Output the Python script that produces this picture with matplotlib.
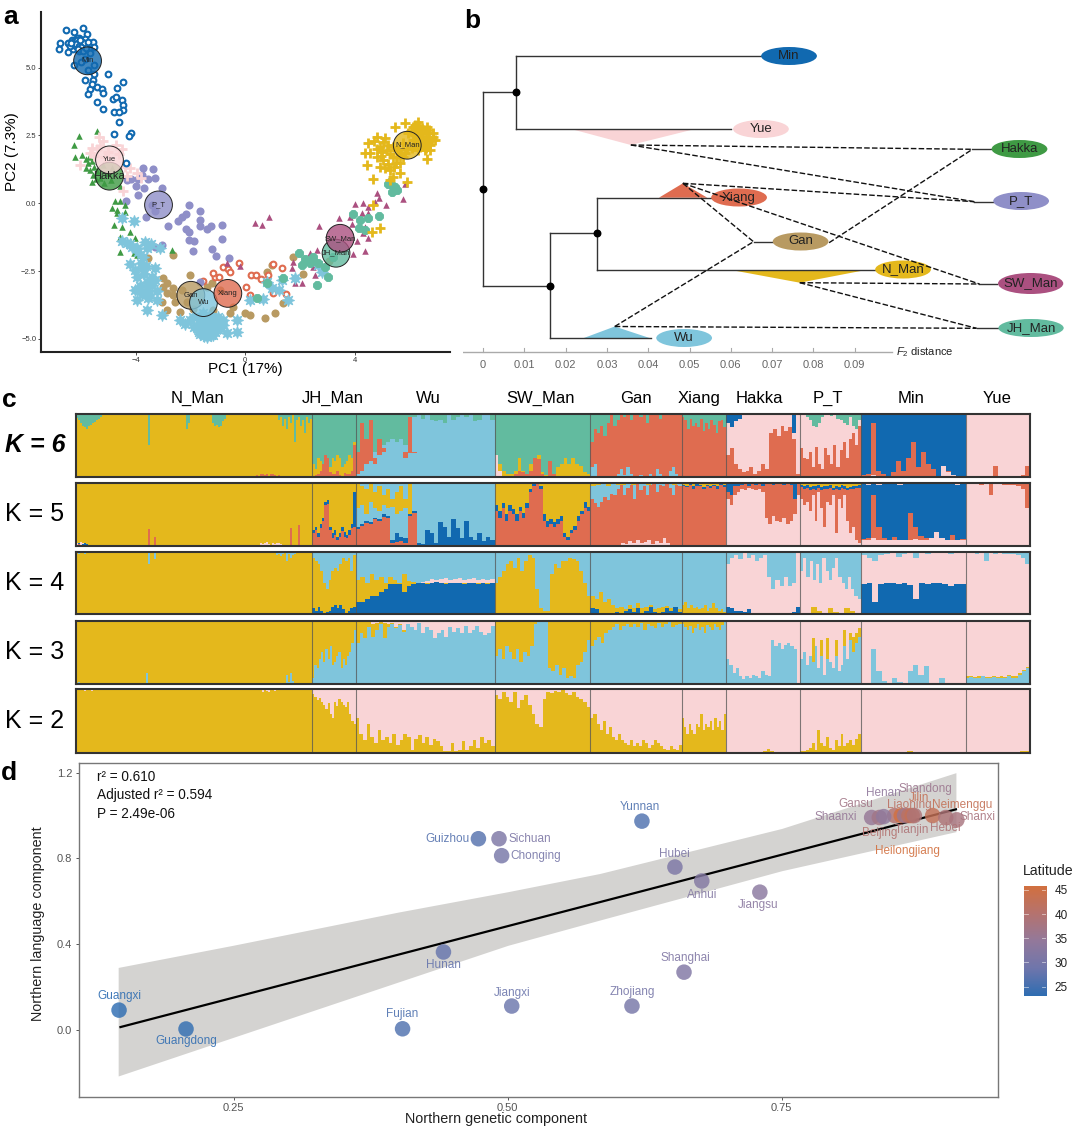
import numpy as np
import matplotlib
matplotlib.use('Agg')
import matplotlib.pyplot as plt
from matplotlib.patches import Ellipse, Polygon
from matplotlib.colors import LinearSegmentedColormap, Normalize

plt.rcParams['font.family'] = ['Liberation Sans', 'DejaVu Sans']
plt.rcParams['mathtext.fontset'] = 'custom'
plt.rcParams['mathtext.rm'] = 'Liberation Sans'
plt.rcParams['mathtext.it'] = 'Liberation Sans:italic'

W, H = 1080, 1129
GOLD, LBLUE, PINK, SALMON, DARK, TEAL = '#e4b81c', '#7fc5dc', '#f9d4d6', '#df6c50', '#1169b0', '#62bb9f'
GREEN, PURPLE, TAN, MAUVE = '#3f9a44', '#8f8fc8', '#b89a62', '#ab5080'

# ---------- panel a: PCA ----------
pc_min = [(-6.54,6.39),(-5.90,6.47),(-6.24,6.30),(-5.78,6.23),(-6.75,5.90),(-6.78,5.69),(-6.45,5.90),(-6.33,6.02),(-6.08,6.08),(-5.96,6.02),(-5.54,5.96),(-5.51,5.77),(-6.45,5.57),(-6.24,5.10),(-5.84,4.55),(-5.54,4.55),(-5.66,4.20),(-5.73,4.02),(-5.41,4.30),(-5.23,4.20),(-5.19,4.05),(-5.41,3.75),(-5.17,3.46),(-5.01,4.77),(-4.45,4.48),(-4.66,4.24),(-4.83,3.83),(-4.72,3.93),(-4.48,3.81),(-4.44,3.62),(-4.44,3.44),(-4.77,3.38),(-4.62,3.38),(-4.61,2.99),(-4.77,2.54),(-4.15,2.58),(-4.22,2.48),(-6.2,5.95),(-6.1,5.85),(-6.0,5.9),(-5.9,5.8),(-6.3,5.7),(-6.15,5.75),(-6.05,5.6),(-5.95,5.7),(-5.8,5.9),(-5.7,5.7),(-5.65,5.55),(-5.85,5.3),(-6.0,5.2),(-5.75,4.9),(-5.5,5.1),(-5.5,4.75),(-5.6,4.4),(-6.25,5.85),(-6.4,5.8),(-5.85,6.05),(-6.15,6.1),(-4.35,1.5),(-6.28,5.95),(-6.22,6.02),(-6.12,6.0),(-6.05,5.95),(-5.95,5.95),(-5.88,5.9),(-6.18,5.88),(-6.08,5.78),(-6.0,5.75),(-5.92,5.62),(-6.1,5.68),(-5.82,5.72),(-6.35,5.9),(-6.02,6.02),(-5.75,5.95)]
pc_hakka = [(-5.4,2.66),(-6.05,2.47),(-6.24,2.14),(-6.21,1.71),(-5.96,1.77),(-5.75,1.48),(-5.65,1.23),(-5.6,0.8),(-4.75,0.1),(-4.55,0.1),(-4.38,-0.06),(-4.87,-0.18),(-4.68,-0.37),(-4.38,-0.31),(-4.8,-0.8),(-4.5,-0.86),(-4.68,-0.25),(-4.55,-1.23),(-4.02,-1.27),(-4.2,-1.07),(-4.55,-1.78),(-4.07,-1.84),(-2.68,-1.71),(-5.8,1.65),(-5.7,1.7),(-5.6,1.55),(-5.5,1.35),(-5.8,1.3),(-5.55,1.05),(-5.4,1.2),(-5.3,0.95),(-5.2,1.4),(-5.0,1.1),(-4.9,0.85),(-5.45,0.9),(-5.15,0.75),(-4.85,1.3),(-4.55,0.65),(-3.95,-1.9)]
pc_yue = [(-5.4,2.0),(-5.3,2.1),(-5.6,2.05),(-5.2,2.3),(-5.35,2.43),(-6.02,1.41),(-4.5,2.0),(-4.6,1.8),(-4.4,1.35),(-4.3,1.0),(-3.95,1.1),(-3.8,0.95),(-4.45,0.45),(-5.0,1.9),(-5.1,1.7),(-5.5,1.75),(-5.65,1.85),(-4.7,2.15),(-4.2,1.3)]
pc_pt = [(-3.72,1.3),(-3.35,1.25),(-3.75,1.05),(-3.55,0.9),(-3.3,0.95),(-3.9,0.9),(-4.15,0.9),(-4.3,0.85),(-4.0,0.65),(-3.7,0.55),(-3.05,0.55),(-3.9,0.3),(-4.35,0.1),(-3.4,-0.05),(-2.05,-0.05),(-1.65,-0.3),(-2.3,-0.5),(-2.15,-0.4),(-2.45,-0.65),(-1.65,-0.6),(-1.65,-0.85),(-1.25,-0.85),(-1.4,-0.95),(-0.85,-0.8),(-2.83,-0.85),(-2.15,-0.95),(-2.05,-1.05),(-2.05,-1.35),(-1.85,-1.4),(-0.85,-1.3),(-1.2,-1.7),(-1.05,-1.95),(-0.6,-2.0),(-1.9,-1.75),(-3.05,-1.55),(-3.3,-1.6),(-1.65,-2.9),(-3.6,-0.5),(-3.3,-0.3)]
pc_gan = [(-2.64,-1.90),(-3.53,-2.03),(-2.01,-2.64),(-2.98,-2.76),(-2.86,-2.95),(-2.98,-3.07),(-2.62,-3.13),(-2.86,-3.32),(-2.62,-3.38),(-2.31,-3.19),(-2.55,-3.62),(-3.04,-3.62),(-2.37,-3.99),(-2.86,-3.93),(-1.22,-2.95),(-1.40,-3.07),(-0.91,-3.19),(0.97,-2.27),(0.79,-2.52),(1.76,-1.99),(2.10,-2.60),(1.40,-3.69),(0.73,-4.24),(1.09,-4.05),(0,-4.05),(0.18,-4.12),(-0.55,-4.05),(-0.43,-3.81),(3.07,-2.11),(-1.16,-3.93),(-2.13,-3.62),(-1.9,-3.9)]
pc_xiang = [(-0.21,-2.19),(-0.79,-2.33),(-0.64,-2.43),(-0.55,-2.52),(-1.09,-2.73),(-0.97,-2.73),(-1.52,-2.87),(0.02,-3.1),(0.21,-2.65),(0.40,-2.65),(0.57,-2.8),(0.85,-2.65),(1.01,-2.23),(1.34,-2.4),(1.5,-3.34),(1.03,-3.32),(0.18,-3.39),(-1.16,-2.58)]
pc_wu = [(-4.48,-0.55),(-4.04,-0.64),(-4.50,-1.38),(-4.32,-1.47),(-4.14,-1.60),(-3.95,-1.66),(-3.65,-1.41),(-3.59,-1.66),(-3.10,-1.66),(-3.71,-1.97),(-4.20,-2.24),(-4.01,-2.46),(-3.71,-2.40),(-3.28,-2.40),(-3.95,-2.70),(-3.59,-2.89),(-3.28,-2.83),(-4.01,-3.19),(-3.59,-3.19),(-3.22,-3.25),(-3.95,-3.56),(-3.59,-3.93),(-3.04,-4.12),(-3.53,-3.50),(-3.22,-3.56),(-2.37,-4.3),(-2.01,-4.3),(-1.64,-4.8),(-1.40,-4.67),(-1.03,-4.55),(-0.79,-4.3),(-0.30,-4.3),(-0.30,-4.73),(-1.64,-4.18),(-1.16,-4.85),(-0.67,-4.79),(-1.40,-4.91),(-1.76,-4.55),(0.18,-3.56),(0.67,-3.52),(0.97,-3.13),(1.34,-2.83),(0.79,-2.89),(1.83,-2.76),(1.22,-3.19),(1.58,-3.56),(2.67,-2.28),(2.79,-2.52),(-1.9,-4.2),(-1.7,-4.4),(-1.5,-4.3),(-1.3,-4.4),(-1.1,-4.5),(-0.9,-4.6),(-1.5,-4.6),(-1.3,-4.7),(-1.5,-4.9),(-1.7,-4.75),(-1.2,-4.2),(-1.0,-4.2),(-0.8,-4.5),(-3.4,-3.0),(-3.7,-2.6),(-3.9,-1.8),(-4.2,-1.5),(-2.2,-4.45),(-1.85,-4.55),(-1.3,-4.15),(-1.55,-4.05),(-3.8,-2.2),(-3.4,-2.7),(-1.1,-4.75),(-0.95,-4.35),(-3.75,-3.35),(-1.6,-4.45),(-1.4,-4.45),(-1.2,-4.55),(-1.0,-4.65),(-1.6,-4.65),(-1.25,-4.85),(-1.45,-4.2),(-1.05,-4.35),(-3.6,-2.3),(-3.85,-3.05),(-3.5,-3.35),(-3.45,-1.5)]
pc_sw = [(0.36,-0.74),(0.61,-0.80),(0.89,-0.52),(2.71,-0.83),(3.44,-0.55),(4.01,-0.02),(4.31,0),(4.49,-0.12),(4.82,0.39),(4.88,0.18),(4.75,0.06),(5.15,-0.06),(5.75,0.15),(5.84,0.70),(3.83,-0.49),(3.89,-0.76),(4.26,-0.37),(4.49,-0.37),(4.38,-0.86),(4.31,-1.11),(4.49,-1.29),(4.08,-1.38),(4.36,-1.75),(3.95,-1.87),(2.62,-1.72),(2.37,-1.82),(1.76,-2.15),(1.70,-2.37),(1.82,-2.95),(2.06,-2.95),(2.49,-2.33),(2.55,-2.64),(2.80,-2.45),(-0.67,-2.21),(-0.18,-2.31)]
pc_jh = [(5.29,0.80),(5.47,0.61),(5.35,0.43),(5.53,0.49),(3.93,-0.39),(4.87,-0.45),(4.20,-0.61),(4.5,-0.55),(4.14,-0.92),(4.38,-0.98),(1.95,-1.82),(2.19,-2.04),(2.37,-2.21),(2.07,-2.27),(2.67,-2.21),(3.04,-2.70),(2.62,-3.01),(1.4,-2.76),(0.79,-2.95),(0.43,-3.5),(2.92,-2.33),(3.22,-1.97),(2.49,-1.97),(5.4,0.65),(5.2,0.7)]
pc_nman = [(5.47,2.83),(5.84,2.95),(6.33,3.01),(6.63,2.83),(6.87,2.58),(6.93,2.33),(6.75,1.97),(6.63,1.62),(4.81,2.46),(4.50,2.21),(4.38,1.87),(4.44,1.41),(4.66,0.88),(5.29,0.86),(5.90,0.80),(5.41,0.98),(4.93,1.35),(5.11,2.40),(4.93,2.09),(5.17,1.97),(5.41,1.72),(5.66,1.47),(5.05,1.6),(5.41,2.09),(5.96,2.58),(6.27,2.7),(6.51,2.46),(6.69,2.58),(6.39,2.09),(6.14,2.33),(6.63,2.21),(6.81,2.33),(6.14,2.83),(6.45,2.76),(5.78,2.21),(4.56,1.84),(4.81,1.72),(5.66,1.1),(5.29,1.23),(4.93,-0.92),(4.62,-1.04),(4.68,-0.06),(6.2,2.5),(6.35,2.4),(6.5,2.25),(6.6,2.6),(6.4,2.6),(6.25,2.2),(6.1,2.05),(5.85,1.85),(5.6,1.95),(5.0,1.9),(5.2,1.45),(5.45,1.35),(4.8,2.0),(4.7,2.3),(6.75,2.15),(6.85,2.45),(6.55,1.95),(6.05,2.65),(5.5,1.5),(5.75,1.7),(6.45,2.4),(6.55,2.35),(6.7,2.4),(6.3,2.55),(6.2,2.35),(6.55,2.7),(6.7,2.7),(6.35,2.85),(6.2,2.9),(6.45,2.15),(6.3,1.95),(6.6,2.05),(5.3,1.8),(5.2,2.15),(5.05,2.25),(5.55,1.7),(4.95,1.75),(5.1,1.3),(5.65,1.8),(5.9,2.0)]
pc_groups = [('Gan',pc_gan),('Xiang',pc_xiang),('P_T',pc_pt),('SW_Man',pc_sw),('Hakka',pc_hakka),('Yue',pc_yue),('Min',pc_min),('Wu',pc_wu),('JH_Man',pc_jh),('N_Man',pc_nman)]
centroids = {'Min':(-5.75,5.25),'Hakka':(-4.95,1.0),'Yue':(-4.95,1.6),'P_T':(-3.16,-0.06),'Gan':(-1.98,-3.39),'Wu':(-1.52,-3.66),'Xiang':(-0.63,-3.32),'JH_Man':(3.32,-1.84),'SW_Man':(3.47,-1.29),'N_Man':(5.92,2.14)}
pc_xticks = [-4, 0, 4]
pc_yticks = [-5.0, -2.5, 0.0, 2.5, 5.0]

# ---------- panel b: tree (F2 distance; rows in layout units) ----------
tree_rows = {'Min':56,'Yue':129,'Hakka':149,'P_T':201,'Xiang':197.5,'Gan':241.5,'N_Man':269.5,'SW_Man':283.5,'JH_Man':328,'Wu':338}
oval_x = {'Min':0.0741,'Yue':0.0673,'Hakka':0.1299,'P_T':0.1303,'Xiang':0.0620,'Gan':0.0769,'N_Man':0.1017,'SW_Man':0.1326,'JH_Man':0.1327,'Wu':0.0487}
solid_edges = [((0,92),(0,286)),((0,92),(0.008,92)),((0,286),(0.0163,286)),
               ((0.008,56),(0.008,129)),((0.008,56),(0.0674,56)),((0.008,129),(0.0601,129)),
               ((0.0163,232.7),(0.0163,338.5)),((0.0163,338.5),(0.0407,338.5)),((0.0163,232.7),(0.0275,232.7)),
               ((0.0275,197.7),(0.0275,270)),((0.0275,197.7),(0.0553,197.7)),((0.0275,270),(0.0951,270)),
               ((0.0655,241.7),(0.0701,241.7)),((0.1185,149.3),(0.1231,149.3)),((0.119,201.7),(0.1235,201.7)),
               ((0.1202,284),(0.1245,284)),((0.1195,328.3),(0.1248,328.3))]
tree_nodes = [(0,189),(0.008,92),(0.0163,286),(0.0275,232.7)]
triangles = {'Yue':[(0.0222,130),(0.0504,130),(0.0358,145)],'Xiang':[(0.0426,197.7),(0.0543,197.7),(0.0484,183.3)],
             'N_Man':[(0.0601,270),(0.0927,270),(0.0767,282.7)],'Wu':[(0.0241,338.5),(0.0407,338.5),(0.0319,326.5)]}
dash_edges = [((0.0358,145),(0.1185,149.3)),((0.0358,145),(0.119,201.7)),((0.0484,183.3),(0.119,201.7)),
              ((0.0484,183.3),(0.1202,284)),((0.0484,183.3),(0.0655,241.7)),((0.0319,326.5),(0.0655,241.7)),
              ((0.0838,242.7),(0.1185,149.3)),((0.0767,282.7),(0.1202,284)),((0.0767,282.7),(0.1195,328.3)),
              ((0.0319,326.5),(0.1195,328.3))]
f2_ticks = [0,0.01,0.02,0.03,0.04,0.05,0.06,0.07,0.08,0.09]
group_colors = {'Min':DARK,'Yue':PINK,'Hakka':GREEN,'P_T':PURPLE,'Xiang':SALMON,'Gan':TAN,'N_Man':GOLD,'SW_Man':MAUVE,'JH_Man':TEAL,'Wu':LBLUE}

# ---------- panel c: structure ----------
pops = ['N_Man','JH_Man','Wu','SW_Man','Gan','Xiang','Hakka','P_T','Min','Yue']
pop_sizes = [236,43.4,139,95.8,91.3,44.4,74,60.7,105,64]
pop_label_x = [121,256,352,464,560,623,683,752,835,921]
# each population: layers painted in order, each (colour, heights of the columns)
K2 = {
 'N_Man':[(PINK,[1]),(GOLD,[.985]*4+[.97,.985,.99,.97]+[.995]*10+[.98]+[.995]*42+[.99]*8+[.995]*22+[.98,.96,.98,.97,.96,.98,.99,.97,.98,.99]+[.995]*16)],
 'JH_Man':[(PINK,[1]),(GOLD,[.92,.88,.82,.86,.8,.75,.68,.78,.6,.55,.8,.74,.85,.8,.75,.72,.8,.6,.5,.45])],
 'Wu':[(PINK,[1]),(GOLD,[.55,.3,.2,.45,.25,.15,.35,.2,.25,.15,.3,.12,.2,.3,.25,.05,.22,.28,.15,.25,.12,.22,.18,.1,.03,.02,.15,.03,.05,.18,.05,.1,.2,.08,.25,.15,.2,.1])],
 'SW_Man':[(PINK,[1]),(GOLD,[.9,.85,.95,.88,.8,.95,.7,.82,.9,.75,.6,.45,.4,.85,.95,.93,.97,.95,.98,.93,.9,.95,.88,.85,.8,.72])],
 'Gan':[(PINK,[1]),(GOLD,[.55,.6,.45,.35,.5,.3,.4,.25,.2,.3,.2,.15,.12,.2,.1,.15,.1,.2,.15,.08,.12,.2,.15,.1,.06,.05,.1,.06,.04,.12])],
 'Xiang':[(PINK,[1]),(GOLD,[.55,.4,.3,.45,.35,.3,.45,.4,.6,.35,.45,.4,.5,.35,.55,.4,.5,.35,.6])],
 'Hakka':[(PINK,[1]),(GOLD,[0,0,0,0,0,0,0,0,0,.01,.02,.06,.03,0,0,0,0,0,0,0])],
 'P_T':[(PINK,[1]),(GOLD,[.02,.03,.05,.08,.15,.05,.35,.15,.1,.25,.08,.05,.2,.1,.3,.1,.15,.2,.12,.22,.3])],
 'Min':[(PINK,[1]),(GOLD,[.005,0,0,0,.005,0,0,.02,0,0,0,.005,0,0,.005,0])],
 'Yue':[(PINK,[1]),(GOLD,[0,0,0,0,.005,0,0,.01,0,.01,0,.02,.03])],
}
K3 = {
 'N_Man':[(PINK,[1]),(GOLD,[.995]*8+[.985,.98,.99]+[.995]*70+[.985,.975,.98,.99]+[.98,.985,.975,.99]+[.995]*30),(LBLUE,[.02,.03,.01,.01,.02,.01]+[0]*29+[.17]+[0]*69+[.15,.03,.18,.05,.02]+[0]*8)],
 'JH_Man':[(GOLD,[1]),(LBLUE,[.1,.3,.25,.4,.5,.35,.55,.4,.6,.3,.35,.45,.5,.25,.4,.3,.45,.5,.65,.85])],
 'Wu':[(PINK,[1]),(GOLD,[1,.98,.98,.98,.95,.97,.98,.97,.95,.97,.9,.95,.85,.95,.9,.85,.97,.8,.9,.85,.72,.8,.85,.75,.9,.82,.88,.8,.92,.8,.85,.92,.82,.78,.8,.92]),(LBLUE,[.65,.8,.72,.9,.75,.85,.95,.72,.9,.95,.88,.93,.82,.95,.9,.85,.96,.8,.9,.85,.72,.8,.85,.75,.9,.82,.88,.8,.92,.8,.85,.92,.82,.78,.8,.92])],
 'SW_Man':[(GOLD,[1]),(LBLUE,[.45,.55,.4,.6,.5,.4,.55,.35,.5,.45,.6,.95,.98,.98,.98,.25,.2,.3,.15,.25,.1,.12,.1,.3,.35,.5,.7])],
 'Gan':[(GOLD,[1]),(LBLUE,[.6,.7,.75,.65,.8,.85,.9,.95,.85,.92,.95,.9,.95,.9,.96,.85,.95,.92,.88,.97,.9,.95,.98,.9,.93,.95])],
 'Xiang':[(GOLD,[1]),(LBLUE,[.95,.9,.85,.92,.8,.88,.95,.85,.9,.8,.93,.9,.85,.95,.9,.85,.93,.98])],
 'Hakka':[(PINK,[1]),(LBLUE,[.4,.3,.18,.25,.12,.08,.12,.1,.15,.12,.1,.2,.15,.12,.7,.6,.65,.55,.62,.65,.6,.55,.02])],
 'P_T':[(PINK,[1]),(GOLD,[.4,.5,.3,.45,.72,.6,.25,.7,.15,.72,.35,.25,.7,.2,.3,.85,.4,.8,.75,.8,.88]),(LBLUE,[.4,.5,.3,.45,.35,.6,.25,.45,.15,.4,.35,.25,.45,.2,.3,.6,.4,.7,.5,.65,.75])],
 'Min':[(PINK,[1]),(LBLUE,[.02,.02,.55,.2,.05,.02,.1,.03,.02,.2,.3,.15,.28,.02,.01,.1,.01,.01,.01,.01])],
 'Yue':[(PINK,[1]),(GOLD,[.12,.12,.11,.12,.13,.11,.11,.12,.11,.12,.11,.14,.12,.12,.17,.22,.27]),(LBLUE,[.1,.11,.1,.1,.12,.1,.1,.11,.1,.1,.1,.12,.1,.1,.15,.2,.25])],
}
K4 = {
 'N_Man':[(PINK,[1]),(LBLUE,[.99]*118),(GOLD,[.98,.97,.99,.98,.97,.98]+[.995]*30+[.8,.99,.99,.88]+[.995]*60+[.95,.97,.94,.96,.98,.86,.97,.9,.95,.97]+[.99]*8)],
 'JH_Man':[(LBLUE,[1]),(GOLD,[.9,.85,.8,.7,.5,.4,.55,.7,.75,.7,.8,.9,.85,.9,.7,.95]),(DARK,[.1,.05,.12,.05,.02,.03,.05,.12,.15,.1,.15,.08,.02,.05,.1,.12])],
 'Wu':[(LBLUE,[1]),(PINK,[.2,.2,.25,.3,.3,.35,.4,.48,.48,.48,.35,.48,.5,.51,.52,.53,.56,.55,.56,.58,.55,.57,.58,.55,.56,.58,.55,.56,.55,.56]),(GOLD,[.55,.6,.5,.65,.55,.6,.5,.6,.55,.5,.65,.53,.52,.51,.51,.5,.51,.52,.5,.5,.51,.51,.5,.5,.5,.51,.5,.5,.51,.5]),(DARK,[.2,.2,.25,.3,.3,.35,.4,.48,.48,.48,.35,.45,.48,.5,.5,.49,.5,.52,.5,.49,.51,.5,.5,.49,.5,.5,.48,.5,.49,.5])],
 'SW_Man':[(LBLUE,[1]),(GOLD,[.5,.6,.7,.8,.85,.75,.9,.7,.85,.95,.9,.4,.1,.05,.05,.65,.8,.75,.85,.85,.9,.88,.85,.7,.5,.3])],
 'Gan':[(LBLUE,[1]),(GOLD,[.3,.25,.35,.2,.25,.15,.1,.12,.08,.15,.1,.18,.1,.12,.15,.08,.1,.12,.14,.1,.12,.08]),(DARK,[.1,.08,.02,0,.02,0,.03,.02,.05,.08,.03,.1,.02,.05,.12,.04,.02,.03,.1,.05,.12,.03])],
 'Xiang':[(LBLUE,[1]),(GOLD,[.15,.2,.1,.15,.1,.12,.08,.1,.15,.05,.1,.18,.1,.05,.08,.03])],
 'Hakka':[(LBLUE,[1]),(PINK,[.8,.9,.95,.88,.98,.9,.95,.85,.9,.95,.6,.4,.55,.45,.6,.45,.5,.98]),(DARK,[.12,.1,.06,.05,.03,.08,.02,.01,0,0,0,0,0,0,0,0,.04,.12])],
 'P_T':[(LBLUE,[1]),(PINK,[.7,.9,.6,.85,.55,.8,.5,.9,.7,.55,.75,.9,.6,.5,.4,.6,.4,.3,.25]),(GOLD,[.01,.02,.12,.05,.02,.1,.03,.01,.1,.05,.02])],
 'Min':[(LBLUE,[1]),(PINK,[.95,.9,.85,.95,.97,.98,.92,.97,.98,.9,.98,.97,.98,.98,.98,.97,.98,.98]),(DARK,[.48,.5,.2,.49,.5,.5,.48,.5,.47,.25,.5,.49,.5,.51,.48,.46,.48,.49])],
 'Yue':[(LBLUE,[1]),(PINK,[.98,.98,.97,.98,.85,.98,.97,.98,.96,.97,.96,.95,.9,.8])],
}
K5 = {
 'N_Man':[(GOLD,[1]),(PINK,[.04,.03,.06,.05,.03,.03,.02,.01]+[0]*82+[.02,.02,.05,.03,.05,.06,.03,.02,.04,.03,.05,.04,.03,.02,.01]+[0]*13),(DARK,[.02,.04,.02,.03,.05,.03,.02]+[0]*60+[.01,.015,.02,.015,.01]+[0]*46),(SALMON,[.02,.03,.02,.01,.02,.01]+[0]*30+[.27]+[0]*2+[.15]+[0]*67+[.29]+[0]*3+[.33]+[0]*6)],
 'JH_Man':[(GOLD,[1]),(DARK,[.25,.3,.2,.35,.45,.7,.72,.3,.2,.25,.15,.2,.3,.22,.18,.25,.35,.85]),(SALMON,[.2,.25,.15,.28,.4,.65,.66,.25,.12,.18,.1,.15,.24,.15,.12,.18,.28,.3])],
 'Wu':[(LBLUE,[1]),(GOLD,[.98,.95,.9,.98,.85,.95,.8,.9,.75,.85,.95,.75,.98]+[0]*19),(LBLUE,[.6,.65,.5,.7,.6,.55,.65,.6,.62,.5,.55,.6]+[0]*20),(DARK,[.3,.35,.4,.38,.45,.42,.5,.48,.1,.2,.15,.12,.5,.55,.05,.03,.25,.2,.05,.38,.3,.15,.42,.28,.12,.4,.15,.1,.2,.08,.15,.1]),(SALMON,[.27,.32,.36,.34,.42,.4,.46,.45,.05,.06,.08,.05,.48,.52,.02,.01,.02,.01,.01,.02,.01,.01,.02,.01,.01,.01,.01,.01,.01,.01,.01,.01])],
 'SW_Man':[(GOLD,[1]),(DARK,[.65,.55,.68,.5,.65,.58,.5,.62,.52,.68,.9,.98,.98,.95,.5,.4,.42,.38,.42,.48,.2,.15,.25,.32,.48,.55,.7,.62]),(SALMON,[.55,.45,.6,.4,.55,.5,.4,.55,.45,.6,.85,.95,.98,.9,.4,.3,.35,.3,.35,.4,.15,.1,.2,.25,.4,.5,.6,.55])],
 'Gan':[(GOLD,[1]),(LBLUE,[.95,.97,.98,.95,.98,.97,.96,.99,.97,.98,.98,.97,.98,.98,.99,.98,.97,.98]),(SALMON,[.75,.68,.62,.7,.78,.72,.82,.8,.9,.96,.8,.92,.96,.75,.98,.88,.95,.8,.96,.98,.85,.97,.94,.98,.92,.8,.96,.94]),(PINK,[0,0,0,0,0,0,0,.02,.05,.03,.08,.05,.1,.04,.06,.1,.03,.08,.05,.12,.04,.02,0,0])],
 'Xiang':[(GOLD,[1]),(DARK,[.97,.95,.98,.94,.98,.96,.93,.97,.95,.97,.94,.98,.96]),(SALMON,[.95,.93,.96,.9,.95,.94,.9,.95,.92,.94,.9,.96,.93])],
 'Hakka':[(DARK,[1]),(SALMON,[.85,.8,.95,.95,.97,.98,.95,.98,.96,.98,.95,.98,.98,.97,.98,.98,.97,.98,.97,.75,.99]),(PINK,[.75,.65,.8,.85,.9,.88,.92,.9,.88,.9,.85,.45,.35,.48,.4,.38,.45,.35,.4,.5,.8])],
 'P_T':[(GOLD,[1]),(DARK,[.97,.95,.96,.93,.95,.94,.96,.93,.95,.94,.96,.92,.95,.93,.96,.94,.92,.93,.94,.95,.96]),(SALMON,[.93,.9,.92,.88,.9,.89,.92,.88,.9,.9,.92,.88,.9,.88,.92,.9,.88,.9,.9,.92,.92]),(PINK,[.75,.65,.7,.55,.8,.4,.85,.6,.3,.7,.65,.8,.2,.75,.6,.8,.4,.2,.3,.1,.05])],
 'Min':[(PINK,[1]),(DARK,[.98,.97,.98,.96,.98,.99,.98,.97,.98,.98,.99,.98,.98,.99,.98,.98,.98,.98,.97,.98]),(SALMON,[.11,.12,.8,.3,.12,.1,.15,.1,.1,.52,.3,.16,.12,.1,.13,.11,.1,.18,.1,.11]),(PINK,[.1,.1,.12,.1,.1,.09,.1,.1,.1,.1,.11,.1,.1,.12,.22,.12,.1,.1,.1,.1])],
 'Yue':[(SALMON,[1]),(PINK,[.99,.98,.98,.97,.99,.8,.98,.98,.97,.97,.96,.95,.9,.6])],
}
K6 = {
 'N_Man':[(TEAL,[1]),(GOLD,[.93,.9,.85,.8,.78,.76,.8,.82,.85,.87,.9,.92,.95,.97]+[.99]*22+[.5]+[.99]*18+[.75,.85]+[.99]*11+[.85,.8,.82,.78,.8,.88,.92]+[.99]*26+[.9,.95,.8,.92,.75,.95,.85,.97,.55,.9,.95,.8,.9,.7,.95,.85,.92]),(SALMON,[.01,.02,.01,0,.01,.02]+[0]*84+[.03,.02,.04,.05,.03,.04,.02,.05,.04,.03,.02,.03,.01]+[0]*15)],
 'JH_Man':[(TEAL,[1]),(GOLD,[.2,.12,.3,.25,.15,.3,.2,.15,.3,.25,.35,.3,.15,.2,.25,.35,.3,.55]),(SALMON,[.02,.03,.05,.1,.2,.35,.3,.08,.05,.04,.1,.03,.02,.06,.04,.05,.1,.5])],
 'Wu':[(TEAL,[1]),(DARK,[0]*13+[.85,.95,.8,.98,.85,.7,.82,.75,.9,.72,.78,.92,.75,.85,.8,.72,.9,.82,.78]),(LBLUE,[.05,.1,.2,.25,.4,.45,.5,.55,.6,.55,.6,.5,.38,.95,.98,.92,.98,.9,.88,.9,.85,.97,.9,.95,.98,.95,.98,.88,.9,.98,.97,.9]),(SALMON,[.4,.85,.6,.9,.3,.6,.45,.15,.1,.05,0,.4,.95,.4]+[0]*18),(LBLUE,[.05,.1,.2,.25,.2,.35,.4,.15,.1,.05,0,.3,.38,.38]+[0]*18)],
 'SW_Man':[(TEAL,[1]),(GOLD,[.12,.2,.1,.05,.05,.1,.3,.1,.05,.2,.3,.35,.08,.03,.08,.05,.15,.2,.3,.2,.3,.2,.18,.08,.05]),(SALMON,[.05,.1,.02,.01,.02,.05,.1,.08,.05,.1,.3,.28,.05,0,.25,.05,0,0,0,0,0,0,0,0,0]),(PINK,[.35,.1]+[0]*23)],
 'Gan':[(TEAL,[1]),(SALMON,[.55,.75,.7,.8,.65,.85,.98,.8,.9,.98,.95,.99,.9,.98,.97,.95,.99,.85,.98,.97,.99,.92,.98,.97,.99,.98,.97,.99]),(LBLUE,[.15,.2,.02,.01,.02,0,0,.01,.05,.12,.03,.15,.04,.02,.01,.03,0,.02,.05,.02,.12,.04,.02,.01,.1,.15,.05,.02])],
 'Xiang':[(TEAL,[1]),(SALMON,[.95,.9,.75,.92,.8,.85,.78,.92,.72,.85,.75,.9,.82,.7,.88,.9,.78])],
 'Hakka':[(PINK,[1]),(DARK,[1,1,1,1]+[.0]*13+[1,0]),(PINK,[.85,.78,.88,.92,.97,.98,.99,.98,.97,.99,.98,.99,.97,.98,.99,.98,.97,.7,.98]),(SALMON,[.35,.45,.2,.12,.08,.1,.15,.05,.1,.2,.12,.7,.75,.65,.8,.72,.78,.6,.05])],
 'P_T':[(TEAL,[1]),(PINK,[.98,.97,.95,.9,.8,.78,.85,.95,.97,.98,.96,.97,.92,.9,.85,.82,.95,.8,.75,.9]),(SALMON,[.45,.3,.28,.4,.15,.48,.2,.12,.45,.35,.2,.5,.15,.42,.55,.3,.6,.7,.5,.8])],
 'Min':[(DARK,[1]),(SALMON,[.03,.05,.85,.1,.04,.02,.08,.25,.1,.3,.55,.15,.4,.2,.12,.02,.05,.1,.02,.01,.02]),(PINK,[.01,.02,.03,.01,.01,0,0,.01,0,.01,.02,0,.01,.02,.01,0,.18,.08,.03,.01,.01])],
 'Yue':[(PINK,[1]),(SALMON,[.01,.02,.01,.01,.01,.01,.18,.01,.01,.01,.01,.02,.03,.18])],
}
k_rows = [(K6,'K = 6',True),(K5,'K = 5',False),(K4,'K = 4',False),(K3,'K = 3',False),(K2,'K = 2',False)]

# ---------- panel d: regression ----------
provinces = ['Guangxi','Guangdong','Fujian','Hunan','Jiangxi','Guizhou','Sichuan','Chonging','Yunnan','Hubei','Anhui','Jiangsu','Shanghai','Zhojiang','Shaanxi','Gansu','Beijing','Henan','Heilongjiang','Shandong','Liaoning','Jilin','Tianjin','Neimenggu','Hebei','Shanxi']
gen_comp = [.1453,.2064,.404,.4413,.5036,.4732,.492,.4944,.6224,.6525,.677,.730,.6608,.6133,.832,.839,.853,.843,.859,.862,.866,.869,.871,.8877,.8996,.9098]
lang_comp = [.093,.005,.006,.364,.112,.892,.892,.813,.974,.76,.695,.643,.27,.112,.991,.991,1.0,.995,1.0,1.0,1.0,1.0,1.0,1.0,.991,.98]
latitude = [23,23.5,26,28,28.5,26.5,31,30,26,31,32,33,31.5,30,35,37,40,34,46,36,41.5,43,39,43,39,38]
label_dx = [0,0,0,0,0,-31,31,34,-2,-1,0,-2,1,0,-36,-23,-15,0,6,21,0,7,-2,30,0,21]
label_dy = [14,-12,15,-13,13,0,0,0,14,13,-14,-13,14,14,0,13,-17,24,-35,27,11,18,-14,11,-11,3]
fit_x = [.1466,.9089]
fit_y = [.014,1.029]
band_x = [.1445,.25,.4,.5,.584,.75,.9089]
band_hi = [.292,.396,.55,.645,.73,.94,1.2]
band_lo = [-.214,-.033,.224,.395,.513,.743,.925]
d_xticks = [.25,.50,.75]
d_yticks = [0.0,0.4,0.8,1.2]
lat_ticks = [25,30,35,40,45]

fig = plt.figure(figsize=(W/100, H/100), dpi=100, facecolor='white')
def px_axes(l, t, r, b, **kw):
    return fig.add_axes([l/W, 1-b/H, (r-l)/W, (b-t)/H], **kw)

# panel letters
for s, x, y in [('a',3,17),('b',464,21),('c',2,400),('d',1,773)]:
    fig.text(x/W, 1-y/H, s, fontsize=19, fontweight='bold', va='center', ha='left')

# ---- a ----
ax = px_axes(41, 12, 450, 352)
ax.set_xlim(-7.45, 7.48); ax.set_ylim(-5.48, 7.05)
pcol = dict(group_colors)
for name, pts in pc_groups:
    xy = np.array(pts); c = pcol[name]
    if name in ('Min','Xiang'):
        ax.scatter(xy[:,0], xy[:,1], s=17, facecolor='white', edgecolor=c, linewidth=1.5, zorder=2)
    elif name in ('N_Man','Yue'):
        ax.scatter(xy[:,0], xy[:,1], s=60, marker='+', color=c, linewidth=2.0, zorder=2)
    elif name in ('Hakka','SW_Man'):
        ax.scatter(xy[:,0], xy[:,1], s=22, marker='^', color=c, linewidth=0, zorder=2)
    elif name == 'Wu':
        ax.scatter(xy[:,0], xy[:,1], s=72, marker=(8,1,0), color=c, linewidth=0.8, zorder=2)
    elif name == 'JH_Man':
        ax.scatter(xy[:,0], xy[:,1], s=48, marker='8', color=c, linewidth=0, zorder=2)
    else:
        ax.scatter(xy[:,0], xy[:,1], s=34, color=c, linewidth=0, zorder=2)
for name, (cx, cy) in centroids.items():
    ax.scatter([cx],[cy], s=400, facecolor=pcol[name], edgecolor='none', alpha=0.8, zorder=3)
    ax.scatter([cx],[cy], s=400, facecolor='none', edgecolor='#222222', linewidth=0.7, zorder=3)
    ax.text(cx, cy, name, fontsize=8 if name=='Hakka' else 5.5, ha='center', va='center', color='#222222', zorder=4)
for sp in ('top','right'): ax.spines[sp].set_visible(False)
for sp in ('left','bottom'): ax.spines[sp].set_linewidth(1.5); ax.spines[sp].set_color('#222222')
ax.set_xticks(pc_xticks); ax.set_xticklabels(['\u22124','0','4'])
ax.set_yticks(pc_yticks); ax.set_yticklabels(['\u22125.0','\u22122.5','0.0','2.5','5.0'])
ax.tick_params(labelsize=5.5, length=2, width=0.6, pad=1.5, colors='#333333')
ax.patch.set_alpha(0)
fig.text(245/W, 1-369/H, 'PC1 (17%)', fontsize=11, ha='center', va='center')
fig.text(12/W, 1-152/H, 'PC2 (7.3%)', fontsize=11, rotation=90, ha='center', va='center')

# ---- b ----
ax = px_axes(463, 0, 1075, 380)
ax.set_xlim((463-483)/4130, (1075-483)/4130); ax.set_ylim(380, 0); ax.axis('off')
for name, tri in triangles.items():
    ax.add_patch(Polygon(tri, closed=True, facecolor=group_colors[name], edgecolor='none', zorder=1))
for a_, b_ in solid_edges:
    ax.plot([a_[0],b_[0]],[a_[1],b_[1]], color='#333333', lw=1.0, zorder=2, solid_capstyle='projecting')
ax.scatter(*zip(*tree_nodes), s=22, color='black', zorder=5)
for name in oval_x:
    big = name in ('SW_Man','JH_Man')
    wd = 0.0158 if big else 0.0135
    ht = 21 if name=='SW_Man' else 18
    ax.add_patch(Ellipse((oval_x[name], tree_rows[name]), wd, ht, facecolor=group_colors[name], edgecolor='none', zorder=3))
    ax.text(oval_x[name], tree_rows[name], name, fontsize=9.5, ha='center', va='center', color='#222222', zorder=6)
for a_, b_ in dash_edges:
    ax.plot([a_[0],b_[0]],[a_[1],b_[1]], color='#111111', lw=1.0, ls=(0,(4,1.6)), zorder=5)
ax.plot([-0.0048,0.0990],[352.3,352.3], color='#aaaaaa', lw=1.0, zorder=1)
for t in f2_ticks:
    ax.plot([t,t],[348,352.3], color='#aaaaaa', lw=0.8)
    ax.text(t, 365, f'{t:g}', fontsize=8, color='#666666', ha='center', va='center')
ax.text(0.1000, 352.5, r'$\mathit{F}_{2}$ distance', fontsize=8, color='#222222', ha='left', va='center')

# ---- c ----
rows_px = [(413.5,477),(482.7,546),(552,614.3),(620.7,684),(689,752.7)]
edges_pop = np.concatenate([[0], np.cumsum(pop_sizes)])
for (K, lab, bold), (t, b) in zip(k_rows, rows_px):
    ax = px_axes(76.4, t, 1029.7, b)
    ax.set_xlim(0, edges_pop[-1]); ax.set_ylim(0, 1)
    for i, p in enumerate(pops):
        for col, tops in K[p]:
            tops = np.asarray(tops, float)
            e = np.linspace(edges_pop[i], edges_pop[i+1], len(tops)+1)
            ax.stairs(tops, e, baseline=0, fill=True, color=col, linewidth=0)
    for x_ in edges_pop[1:-1]:
        ax.axvline(x_, color='#555555', lw=0.8, alpha=0.75)
    ax.set_xticks([]); ax.set_yticks([])
    for sp in ax.spines.values(): sp.set_linewidth(1.5); sp.set_color('#333333')
    fig.text(5/W, 1-((t+b)/2)/H, lab, fontsize=18, fontweight='bold' if bold else 'normal',
             fontstyle='italic' if bold else 'normal', ha='left', va='center')
    if bold:
        for p, x_ in zip(pops, pop_label_x):
            ax.text(x_, 1.0+15/(b-t), p, fontsize=12, ha='center', va='center', clip_on=False)

# ---- d ----
ax = px_axes(78.5, 763, 998, 1097)
ax.set_xlim(.1083, .9473); ax.set_ylim(-.312, 1.245)
cmap = LinearSegmentedColormap.from_list('lat', ['#2e6db2','#6f76ac','#93799b','#b5736f','#d2703f'])
norm = Normalize(23.07, 45.8)
ax.fill_between(band_x, band_lo, band_hi, color='#d4d3d1', linewidth=0, zorder=1)
ax.plot(fit_x, fit_y, color='black', lw=1.6, zorder=2)
ax.scatter(gen_comp, lang_comp, s=125, c=latitude, cmap=cmap, norm=norm, alpha=0.82, linewidth=0, zorder=3)
for name, gx, ly, lat, dx, dy in zip(provinces, gen_comp, lang_comp, latitude, label_dx, label_dy):
    ax.annotate(name, (gx, ly), xytext=(dx*0.72, dy*0.72), textcoords='offset points', fontsize=8.5,
                color=cmap(norm(lat)), alpha=0.9, ha='center', va='center', zorder=4)
ax.set_xticks(d_xticks); ax.set_xticklabels(['0.25','0.50','0.75'])
ax.set_yticks(d_yticks); ax.set_yticklabels(['0.0','0.4','0.8','1.2'])
ax.tick_params(labelsize=8, length=2.5, width=0.7, colors='#555555', pad=2)
for sp in ax.spines.values(): sp.set_linewidth(1.0); sp.set_color('#777777')
for s, y in [('r\u00b2 = 0.610',777),('Adjusted r\u00b2 = 0.594',795),('P = 2.49e-06',814)]:
    fig.text(97/W, 1-y/H, s, fontsize=9.8, ha='left', va='center', color='#111111')
fig.text(496/W, 1-1119/H, 'Northern genetic component', fontsize=10.4, ha='center', va='center', color='#222222')
fig.text(38/W, 1-924/H, 'Northern language component', fontsize=10.4, rotation=90, ha='center', va='center', color='#222222')

cax = px_axes(1023.5, 886, 1046, 996)
grad = np.linspace(23.07, 45.8, 256)[:,None]
cax.imshow(grad, origin='lower', aspect='auto', extent=[0,1,23.07,45.8], cmap=cmap, norm=norm)
cax.set_xticks([]); cax.yaxis.tick_right()
cax.set_yticks(lat_ticks)
cax.tick_params(labelsize=8.5, length=0, pad=6, colors='#222222')
for t in lat_ticks:
    cax.plot([0,.2],[t,t], color='white', lw=0.6, alpha=.6); cax.plot([.8,1],[t,t], color='white', lw=0.6, alpha=.6)
cax.set_xlim(0,1); cax.set_ylim(23.07,45.8)
for sp in cax.spines.values(): sp.set_visible(False)
fig.text(1023/W, 1-871/H, 'Latitude', fontsize=10.2, ha='left', va='center', color='#222222')

fig.savefig('out.png', dpi=100, facecolor='white')
